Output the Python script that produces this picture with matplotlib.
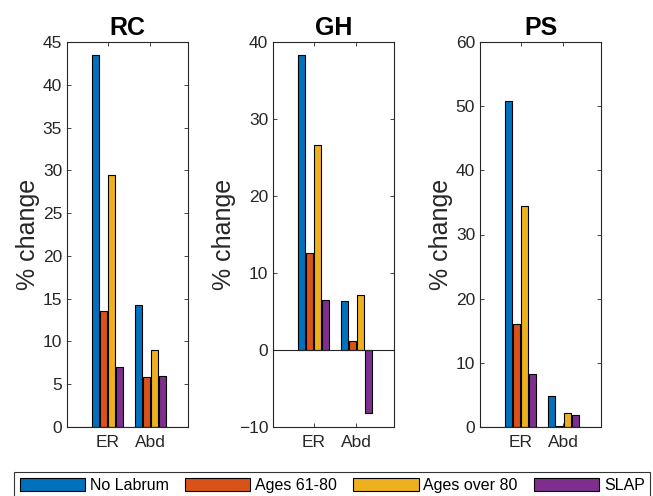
import matplotlib.pyplot as plt
import numpy as np

plt.rcParams["font.family"] = ["Liberation Sans", "DejaVu Sans"]

panels = ["RC", "GH", "PS"]
movements = ["ER", "Abd"]
groups = ["No Labrum", "Ages 61-80", "Ages over 80", "SLAP"]
colors = ["#0072BD", "#D95319", "#EDB120", "#7E2F8E"]

# values per panel: one list per group, [ER, Abd]
rc_vals = [[43.5, 14.3], [13.6, 5.8], [29.4, 9.0], [7.0, 6.0]]
gh_vals = [[38.3, 6.3], [12.6, 1.2], [26.6, 7.1], [6.5, -8.2]]
ps_vals = [[50.8, 4.8], [16.1, 0.1], [34.5, 2.2], [8.3, 1.8]]
all_vals = [rc_vals, gh_vals, ps_vals]

ylims = [(0, 45), (-10, 40), (0, 60)]
yticks = [np.arange(0, 46, 5), np.arange(-10, 41, 10), np.arange(0, 61, 10)]

fig = plt.figure(figsize=(6.53, 4.96), dpi=100)
lefts = [67, 273, 480]
ax_w, ax_top, ax_bot = 121, 42, 427
W, H = 653, 496

x = np.arange(1, len(movements) + 1)
step = 0.19
width = 0.165
text_col = "#262626"
handles = []

for i, name in enumerate(panels):
    ax = fig.add_axes([lefts[i] / W, 1 - ax_bot / H, ax_w / W, (ax_bot - ax_top) / H])
    for j, vals in enumerate(all_vals[i]):
        b = ax.bar(x + (j - 1.5) * step, vals, width, color=colors[j],
                   edgecolor="black", linewidth=0.8, label=groups[j], zorder=2)
        if i == 0:
            handles.append(b)
    ax.axhline(0, color="#262626", linewidth=0.8, zorder=3)
    ax.set_xlim(0.05, 2.88)
    ax.set_ylim(*ylims[i])
    ax.set_yticks(yticks[i])
    ax.set_xticks(x)
    ax.set_xticklabels(movements)
    ax.tick_params(direction="in", top=True, right=True, labelsize=12.5,
                   colors=text_col, length=3, width=0.6)
    ax.tick_params(axis="x", pad=6)
    for sp in ax.spines.values():
        sp.set_color(text_col)
        sp.set_linewidth(0.8)
    ax.set_title(name, fontsize=18, fontweight="bold", pad=5)
    ax.set_ylabel("% change", fontsize=18, color=text_col, labelpad=2)

leg = fig.legend(handles=handles, labels=groups, loc="upper center",
                 bbox_to_anchor=(0.509, 1 - 472 / H), ncol=4, fontsize=11.5,
                 frameon=True, fancybox=False, edgecolor="black",
                 handlelength=4.1, handleheight=0.9, columnspacing=1.0,
                 handletextpad=0.3, borderpad=0.35, borderaxespad=0)
leg.get_frame().set_linewidth(0.8)

fig.savefig("out.png", dpi=100)
